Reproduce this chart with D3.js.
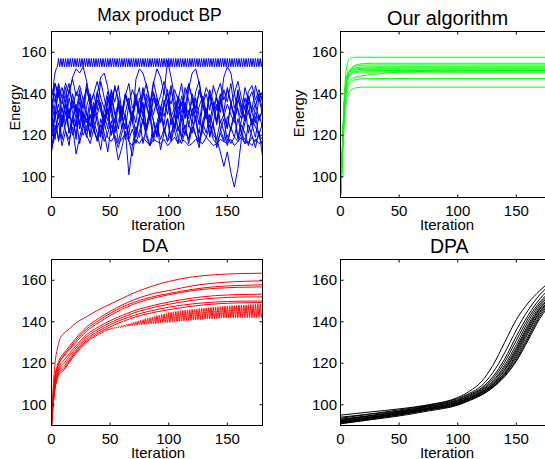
<!DOCTYPE html>
<html><head><meta charset="utf-8">
<script src="https://cdn.jsdelivr.net/npm/d3@7"></script>
<style>
body{margin:0;background:#fff}
svg{display:block}
text{font-family:"Liberation Sans",Arial,Helvetica,sans-serif;fill:#000}
</style>
</head><body>
<svg id="c" width="545" height="459"></svg>
<script>
// ---------- shared axis data ----------
const xTicks = [0, 50, 100, 150];
const yTicks = [100, 120, 140, 160];
const xDomain = [0, 180];
const yDomain = [90, 170];
const titles = ["Max product BP", "Our algorithm", "DA", "DPA"];
const xLabel = "Iteration";
const yLabel = "Energy";

// ---------- Max product BP (sampled every 3 iterations) ----------
const bpIter = d3.range(0, 181, 3);
const bp1 = [120,128,135,125,131,122,127,134,126,120,124,130,122,118,121,126,119,117,120,116,118,121,117,115,118,116,119,117,115,118,117,116,118,115,117,119,116,118,117,115,116,118,117,116,119,117,115,116,118,117,116,118,115,117,119,116,117,115,118,116,117];
const bp2 = [118,130,142,138,145,140,148,152,150,153,146,135,128,140,132,125,138,130,122,135,128,140,133,126,147,152,150,144,136,130,138,126,134,142,130,124,137,145,131,128,140,133,125,138,130,142,136,127,135,148,153,150,140,132,128,138,131,125,134,140,132];
const bp3 = [135,140,128,133,125,138,131,124,136,129,122,134,127,140,148,150,143,132,126,137,130,123,135,128,140,131,126,138,132,145,152,148,140,156,148,138,130,136,128,142,150,152,145,135,128,140,133,125,137,130,124,136,129,142,134,127,139,131,126,138,130];
const bp4 = [112,125,118,130,122,115,128,120,133,125,119,130,124,117,128,121,112,125,118,108,114,122,101,115,124,119,128,121,115,126,120,131,124,117,128,122,116,129,123,118,127,120,114,126,121,130,124,118,127,122,115,124,119,128,121,116,125,120,114,122,110];
const bp5 = [138,130,142,126,135,128,140,132,125,137,131,124,136,129,121,133,127,139,130,123,134,128,120,132,126,138,129,122,135,127,119,131,125,137,130,123,134,127,120,132,126,138,129,122,133,127,120,118,112,105,112,102,95,104,118,126,132,125,119,130,124];
const bp6 = [125,135,145,138,130,142,136,128,140,133,145,137,130,141,134,127,139,132,144,136,129,140,134,127,138,131,143,135,128,140,133,126,137,130,142,135,128,139,132,145,138,131,142,135,128,140,133,126,138,131,143,136,129,141,134,127,139,132,144,137,141];
const bp7 = [115,122,130,118,126,133,120,128,116,124,131,119,127,121,113,125,132,120,128,117,124,130,118,110,122,129,116,124,131,119,126,113,121,128,117,124,130,118,125,116,123,129,117,125,131,119,126,114,122,128,117,124,130,118,125,121,115,123,129,120,115];
const bp8 = [140,145,138,143,136,141,147,139,144,137,142,135,140,146,138,133,141,136,143,138,131,140,135,142,137,130,139,145,136,141,134,139,146,140,135,142,137,131,140,144,138,133,141,136,143,139,132,140,145,137,142,135,140,146,138,133,141,144,137,142,136];
const bp9 = [128,118,132,124,137,121,129,135,123,131,126,138,122,130,136,125,133,120,128,134,123,131,138,126,119,129,136,124,132,127,121,134,129,137,125,131,122,130,136,124,133,127,121,135,129,124,132,138,126,130,123,135,128,133,121,129,136,125,131,127,133];
const bp10 = [130,145,140,135,143,128,137,131,142,126,134,140,129,137,132,125,136,141,130,134,127,139,133,128,136,130,141,134,127,138,132,126,135,140,129,133,138,127,135,130,137,128,134,139,131,126,136,132,140,129,135,130,126,137,133,129,138,131,135,128,131];
const bp11 = [113,120,126,115,122,118,124,111,119,126,120,116,123,118,125,117,121,127,119,114,121,126,118,123,116,122,127,119,115,121,125,118,123,117,121,126,119,116,122,118,124,120,117,122,119,125,118,116,121,117,120,116,119,117,121,118,116,119,117,120,118];
const bp12 = [142,136,144,131,139,145,133,141,137,128,143,135,140,132,146,138,130,142,136,144,131,139,145,133,137,143,129,140,135,146,138,132,141,136,144,130,139,134,143,137,129,141,146,135,140,132,144,138,131,142,136,145,133,139,130,143,137,141,134,140,138];
const bp13 = [122,131,117,127,135,121,129,118,133,124,128,120,134,126,119,130,123,136,121,127,132,118,125,131,120,128,135,122,129,117,126,133,121,128,118,130,124,119,134,125,121,129,116,127,132,120,126,135,123,118,129,122,131,119,127,134,121,128,124,120,126];
// the oscillating series, every iteration 0..180
const bpCombIter = d3.range(0, 181);
const bpComb = [118,135,146,150,152,153,
157,153,157,153,157,153,157,153,157,153,157,153,157,153,157,153,157,153,157,153,157,153,157,153,
157,153,157,153,157,153,157,153,157,153,157,153,157,153,157,153,157,153,157,153,157,153,157,153,
157,153,157,153,157,153,157,153,157,153,157,153,157,153,157,153,157,153,157,153,157,153,157,153,
157,153,157,153,157,153,157,153,157,153,157,153,157,153,157,153,157,153,157,153,157,153,157,153,
157,153,157,153,157,153,157,153,157,153,157,153,157,153,157,153,157,153,157,153,157,153,157,153,
157,153,157,153,157,153,157,153,157,153,157,153,157,153,157,153,157,153,157,153,157,153,157,153,
157,153,157,153,157,153,157,153,157,153,157,153,157,153,157,153,157,153,157,153,157,153,157,153,
157,153,157,153,157,153,157,153,157,153,157,153,157,153,157,153,157,153,157,153,157,153,157,153,
157,153,157,153,157,153,157,153,157,153,157,153,157,153,
157];
const bpSeries = [bp1, bp2, bp3, bp4, bp5, bp6, bp7, bp8, bp9, bp10, bp11, bp12, bp13];

// ---------- Our algorithm ----------
const ourIter = [0,1,2,3,4,5,6,8,10,12,15,20,30,50,100,180];
const our1 = [91,105,122,136,146,152,155,156.8,157.4,157.6,157.6,157.6,157.6,157.6,157.6,157.6];
const our2 = [92,104,120,133,142,147,149.5,151.5,152.8,153.6,154.2,154.5,154.7,154.7,154.7,154.7];
const our3 = [90.5,103,119,132,141,146,148.5,150.8,152.2,153,153.5,153.8,153.9,153.9,153.9,153.9];
const our4 = [91,104,120,133,142,146.5,149,150.8,151.8,152.3,152.7,152.9,153,153,153,153];
const our5 = [90,102,117,130,139,144,147,149.5,150.6,151.2,151.6,151.8,151.9,151.9,151.9,151.9];
const our6 = [92,102,116,128,137,141.5,144,146.3,147.3,147.8,148.3,148.8,149.5,150.4,151,151.2];
const our7 = [90.5,103,118,131,140,145,147.5,149.3,150.2,150.6,150.9,151.1,151.2,151.2,151.2,151.2];
const our8 = [91,101,115,127,136,140.5,143,145.2,146.2,146.7,147,147.2,147.3,147.3,147.3,147.3];
const our9 = [90,100,113,124,132,136.5,139,141,142.2,142.7,143,143.2,143.2,143.2,143.2,143.2];
const our10 = [91,103,119,132,141,146,148.5,150.4,151.3,151.8,152.1,152.3,152.4,152.4,152.4,152.4];
const our11 = [90.5,102,117,130,139,144,146.5,148.6,149.6,150.1,150.4,150.5,150.5,150.5,150.4,150.4];
const ourSeries = [our1, our2, our3, our4, our5, our6, our7, our8, our9, our10, our11];

// ---------- DA ----------
const daIter = [0,1,2,3,5,7,10,15,20,30,40,50,60,70,80,90,100,120,140,160,180];
const da1 = [90,103,113,120,127,131.5,134,136.5,139,142.5,145.7,148.5,151.2,153.8,156,157.9,159.4,161.6,162.7,163.2,163.4];
const da2 = [90,101,109,114,119,122,124.5,128,131.5,137.5,141.5,145,148,150.5,152.5,154,155,157.3,158.7,159.4,159.7];
const da3 = [90,100.5,108,113,118,121,123.5,127,130.5,136.5,140.5,144,147,149.3,151.1,152.5,153.6,155.6,156.9,157.5,157.8];
const da4 = [90,100,107.5,112.5,117.5,120.5,123,126.3,129.5,135.5,139.5,143,146,148.4,150.3,151.8,153,155,156.1,156.6,156.8];
const da5 = [90,99,106,111,116,119,121,124.5,127.8,133.8,137.5,140.5,143,145.2,146.9,148.3,149.5,151.4,152.6,153.1,153.3];
const da6 = [90,98.5,105,110,115,118,119.5,123.2,126.7,132.8,136.5,139.5,142,144.2,145.9,147.3,148.4,150.3,151.4,151.9,152];
const da7 = [90,98,104,109,114,117,118,122,125.6,131.8,135.5,138.5,141,143,144.6,145.9,147,148.6,149.5,149.9,150];
const da8 = [90,97.5,103.5,108,113,116,117,121,124.8,131,134.6,137.5,140,142,143.6,144.8,145.8,147.5,148.6,149.1,149.3];
const daSeries = [da1, da2, da3, da4, da5, da6, da7, da8];
// oscillating DA run: smooth start (iterations 0..50 on daIter), then every iteration 51..180
const daOscStart = [90,97,103,107.5,112.5,115,116.3,120.3,124,130.3,133.8,136.5];
const daOscIter = d3.range(51, 181);
const daOsc = [
136.6,137.0,136.7,137.2,136.9,137.5,137.1,137.8,137.3,138.2,
137.5,138.4,137.6,138.7,137.8,139.0,137.9,139.3,138.1,139.8,
138.2,140.0,138.3,140.4,138.5,140.7,138.6,141.0,138.7,141.5,
138.8,141.7,138.9,142.0,139.0,142.3,139.1,142.6,139.2,143.0,
139.3,143.2,139.4,143.5,139.5,143.8,139.6,144.0,139.6,144.4,
139.7,144.6,139.8,144.8,140.0,145.0,140.1,145.1,140.2,145.3,
140.3,145.4,140.4,145.6,140.5,145.7,140.6,145.8,140.7,146.0,
140.8,146.1,140.9,146.2,141.0,146.3,141.1,146.5,141.2,146.6,
141.3,146.7,141.3,146.8,141.4,146.9,141.5,147.0,141.5,147.1,
141.6,147.2,141.6,147.3,141.7,147.4,141.8,147.5,141.8,147.6,
141.9,147.7,141.9,147.8,141.9,147.8,142.0,147.9,142.0,148.0,
142.0,148.0,142.0,148.1,142.0,148.1,142.0,148.2,142.0,148.3,
142.0,148.3,142.0,148.4,142.0,148.4,142.0,148.5,142.0,148.5];

// ---------- DPA ----------
const dpaIter = [0,25,50,75,100,110,120,130,140,150,160,170,180];
const dpa1 = [95,96.5,98,100,103.5,106.5,111,119,130,141,149,155,160];
const dpa2 = [93.5,95.5,97.5,99.8,103,105.5,109,115.5,125,136,145.5,153,158.5];
const dpa3 = [94,95.5,97,99.5,102.5,105,108,113.5,122,133,143,151,156.5];
const dpa4 = [92.5,94.5,96.5,99,102,104.5,107.5,112.5,120.5,131,141.5,149.5,155];
const dpa5 = [93,94.8,96.8,99.2,102,104.2,107,111.5,119,129,140,148.5,154];
const dpa6 = [92,94,96,98.5,101.5,103.8,106.5,111,118,127.5,138.5,147.5,153.5];
const dpa7 = [91.5,93.5,95.5,98,101,103.3,106,110.2,117,126.5,137.5,146.5,152.5];
const dpa8 = [92.8,94.6,96.3,98.6,101.2,103.4,106,110,116.5,125.5,136.5,146,152];
const dpa9 = [91,93,95,97.5,100.5,102.8,105.4,109.5,115.5,124.5,135.5,145,151.5];
const dpa10 = [91.8,93.8,95.8,98.2,100.8,103,105.5,109.3,115,123.5,134.5,144.5,151];
const dpa11 = [90.8,92.7,94.6,97,99.8,102,104.6,108.5,114.5,122.5,133,143.5,150.5];
const dpa12 = [92.2,93.9,95.6,97.8,100.3,102.5,105,108.8,114,121.5,132,142.5,150];
const dpa13 = [91.2,93.2,95.2,97.6,100,102.2,104.6,108.3,113.5,121,131,141.5,149];
const dpaSeries = [dpa1,dpa2,dpa3,dpa4,dpa5,dpa6,dpa7,dpa8,dpa9,dpa10,dpa11,dpa12,dpa13];

// ---------- build point lists ----------
const zip = (xs, ys) => ys.map((v, i) => [xs[i], v]);
const bpLines = bpSeries.map(s => zip(bpIter, s)).concat([zip(bpCombIter, bpComb)]);
const ourLines = ourSeries.map(s => zip(ourIter, s));
const daLines = daSeries.map(s => zip(daIter, s))
  .concat([zip(daIter, daOscStart).concat(zip(daOscIter, daOsc))]);
const dpaLines = dpaSeries.map(s => zip(dpaIter, s));

// ---------- layout ----------
const svg = d3.select("#c");
const panels = [
  {x0:51.5, x1:262.5, y0:31.5, y1:197.5, lines:bpLines, color:"#0000ff", curve:d3.curveLinear,
   title:titles[0], tSize:17.5, tX:159.5, tY:20.7, pad:5, energy:{x:19.5, y:107.5, size:14.5}},
  {x0:340.5, x1:551.5, y0:31.5, y1:197.5, lines:ourLines, color:"#00ff00", curve:d3.curveMonotoneX,
   title:titles[1], tSize:20, tX:447.5, tY:25, pad:3.5, energy:{x:303.5, y:113.5, size:15}},
  {x0:51.5, x1:262.5, y0:259.5, y1:425.5, lines:daLines, color:"#ff0000", curve:d3.curveMonotoneX,
   title:titles[2], tSize:19, tX:155, tY:251.7, pad:5},
  {x0:340.5, x1:551.5, y0:259.5, y1:425.5, lines:dpaLines, color:"#000000", curve:d3.curveMonotoneX,
   title:titles[3], tSize:19.5, tX:449.3, tY:253.3, pad:3.5}
];

panels.forEach((p, k) => {
  const x = d3.scaleLinear().domain(xDomain).range([p.x0, p.x1]);
  const y = d3.scaleLinear().domain(yDomain).range([p.y1, p.y0]);
  const g = svg.append("g");

  const cid = "clip" + k;
  svg.append("clipPath").attr("id", cid).append("rect")
    .attr("x", p.x0).attr("y", p.y0).attr("width", p.x1 - p.x0).attr("height", p.y1 - p.y0);

  const line = d3.line().x(d => x(d[0])).y(d => y(d[1])).curve(p.curve);
  g.append("g").attr("clip-path", `url(#${cid})`)
    .selectAll("path").data(p.lines).join("path")
    .attr("d", line).attr("fill", "none").attr("stroke", p.color)
    .attr("stroke-width", 1).attr("stroke-linejoin", "round");

  const font = "'Liberation Sans',Arial,Helvetica,sans-serif";
  const style = (a) => { a.select(".domain").remove(); a.attr("font-size", 15).attr("font-family", font); a.selectAll("line").attr("stroke", "#000"); };

  g.append("g").attr("transform", `translate(0,${p.y1})`)
    .call(d3.axisBottom(x).tickValues(xTicks).tickSizeInner(-3).tickSizeOuter(0).tickPadding(7.5).offset(0)).call(style);
  g.append("g").attr("transform", `translate(0,${p.y0})`)
    .call(d3.axisTop(x).tickValues(xTicks).tickSizeInner(-3).tickSizeOuter(0).tickFormat(() => "").offset(0)).call(style);
  g.append("g").attr("transform", `translate(${p.x0},0)`)
    .call(d3.axisLeft(y).tickValues(yTicks).tickSizeInner(-3).tickSizeOuter(0).tickPadding(p.pad).offset(0)).call(style);
  g.append("g").attr("transform", `translate(${p.x1},0)`)
    .call(d3.axisRight(y).tickValues(yTicks).tickSizeInner(-3).tickSizeOuter(0).tickFormat(() => "").offset(0)).call(style);

  g.append("rect").attr("x", p.x0).attr("y", p.y0).attr("width", p.x1 - p.x0).attr("height", p.y1 - p.y0)
    .attr("fill", "none").attr("stroke", "#000").attr("stroke-width", 1);

  g.append("text").attr("x", p.tX).attr("y", p.tY).attr("text-anchor", "middle")
    .attr("font-size", p.tSize).text(p.title);
  g.append("text").attr("x", (p.x0 + p.x1) / 2 + 1).attr("y", p.y1 + 32).attr("text-anchor", "middle")
    .attr("font-size", 15).text(xLabel);
  if (p.energy) {
    g.append("text").attr("transform", `translate(${p.energy.x},${p.energy.y}) rotate(-90)`)
      .attr("text-anchor", "middle").attr("font-size", p.energy.size).text(yLabel);
  }
});
</script>
</body></html>
